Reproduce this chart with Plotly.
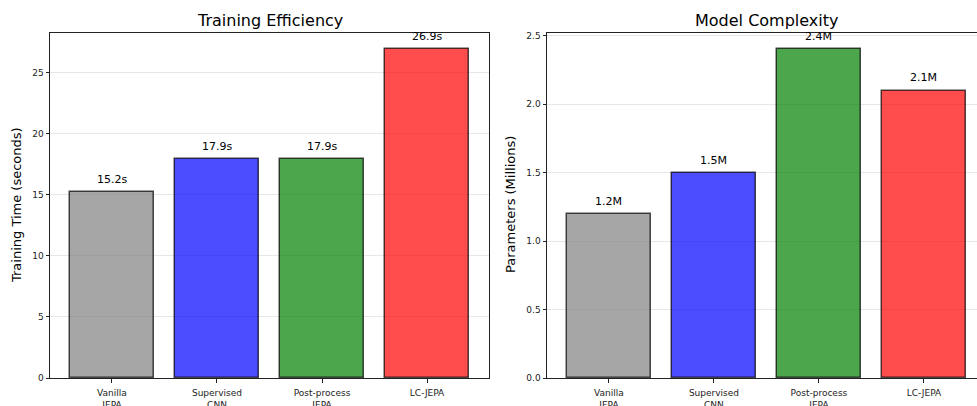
import plotly.graph_objects as go

categories = ["Vanilla<br>JEPA", "Supervised<br>CNN", "Post-process<br>JEPA", "LC-JEPA"]
train_time = [15.2, 17.9, 17.9, 26.9]
params_m = [1.2, 1.5, 2.4, 2.1]
time_labels = ["15.2s", "17.9s", "17.9s", "26.9s"]
param_labels = ["1.2M", "1.5M", "2.4M", "2.1M"]
colors = ["rgba(128,128,128,0.7)", "rgba(0,0,255,0.7)", "rgba(0,128,0,0.7)", "rgba(255,0,0,0.7)"]
time_ticks = [0, 5, 10, 15, 20, 25]
param_ticks = [0.0, 0.5, 1.0, 1.5, 2.0, 2.5]
param_tick_text = ["0.0", "0.5", "1.0", "1.5", "2.0", "2.5"]

W, H = 977, 406
FONT = "DejaVu Sans"
xpos = list(range(len(categories)))

fig = go.Figure()
fig.add_trace(go.Bar(x=xpos, y=train_time, width=0.8,
                     marker=dict(color=colors, line=dict(color="rgba(0,0,0,0.7)", width=1.5)),
                     xaxis="x", yaxis="y", showlegend=False, hoverinfo="skip"))
fig.add_trace(go.Bar(x=xpos, y=params_m, width=0.8,
                     marker=dict(color=colors, line=dict(color="rgba(0,0,0,0.7)", width=1.5)),
                     xaxis="x2", yaxis="y2", showlegend=False, hoverinfo="skip"))

ann = []
for i, (v, t) in enumerate(zip(train_time, time_labels)):
    ann.append(dict(x=i, y=v, xref="x", yref="y", text=t, showarrow=False,
                    yanchor="bottom", yshift=4, font=dict(family=FONT, size=11, color="black")))
for i, (v, t) in enumerate(zip(params_m, param_labels)):
    ann.append(dict(x=i, y=v, xref="x2", yref="y2", text=t, showarrow=False,
                    yanchor="bottom", yshift=4, font=dict(family=FONT, size=11, color="black")))

ytop = (H - 33) / H
ybot = (H - 378) / H
ann.append(dict(x=269.5 / W, y=(H - 20) / H, xref="paper", yref="paper", yanchor="middle",
                xanchor="center", text="Training Efficiency", showarrow=False,
                font=dict(family=FONT, size=16, color="black")))
ann.append(dict(x=766.5 / W, y=(H - 20) / H, xref="paper", yref="paper", yanchor="middle",
                xanchor="center", text="Model Complexity", showarrow=False,
                font=dict(family=FONT, size=16, color="black")))
ann.append(dict(x=16 / W, y=(H - 205) / H, xref="paper", yref="paper", textangle=-90,
                xanchor="center", yanchor="middle", text="Training Time (seconds)", showarrow=False,
                font=dict(family=FONT, size=13, color="black")))
ann.append(dict(x=510 / W, y=(H - 205) / H, xref="paper", yref="paper", textangle=-90,
                xanchor="center", yanchor="middle", text="Parameters (Millions)", showarrow=False,
                font=dict(family=FONT, size=13, color="black")))

axis_common = dict(showline=True, linecolor="#222", linewidth=1, ticks="outside", ticklen=3.5,
                   tickcolor="#222", tickfont=dict(family=FONT, size=9, color="#222"),
                   automargin=False)

fig.update_layout(
    width=W, height=H, margin=dict(l=0, r=0, t=0, b=0, autoexpand=False),
    plot_bgcolor="white", paper_bgcolor="white", bargap=0,
    annotations=ann,
    xaxis=dict(domain=[50 / W, 489 / W], range=[-0.59, 3.59], anchor="y", tickvals=xpos,
               ticktext=categories, mirror=True, showgrid=False, zeroline=False,
               ticklabelstandoff=3, **axis_common),
    yaxis=dict(domain=[ybot, ytop], range=[0, 28.245], anchor="x", tickvals=time_ticks,
               mirror=True, showgrid=True, gridcolor="rgba(176,176,176,0.3)", gridwidth=1,
               zeroline=False, **axis_common),
    xaxis2=dict(domain=[547 / W, 1.0], range=[-0.59, (977 - 547) / 105 - 0.59], anchor="y2",
                tickvals=xpos, ticktext=categories, mirror=True, showgrid=False, zeroline=False,
                ticklabelstandoff=3, **axis_common),
    yaxis2=dict(domain=[ybot, ytop], range=[0, 2.52], anchor="x2", tickvals=param_ticks,
                ticktext=param_tick_text, mirror=False, showgrid=True,
                gridcolor="rgba(176,176,176,0.3)", gridwidth=1, zeroline=False, **axis_common),
)

fig.write_html("out.html", config={"displayModeBar": False},
               post_script="document.body.style.margin='0';document.body.style.overflow='hidden';")
